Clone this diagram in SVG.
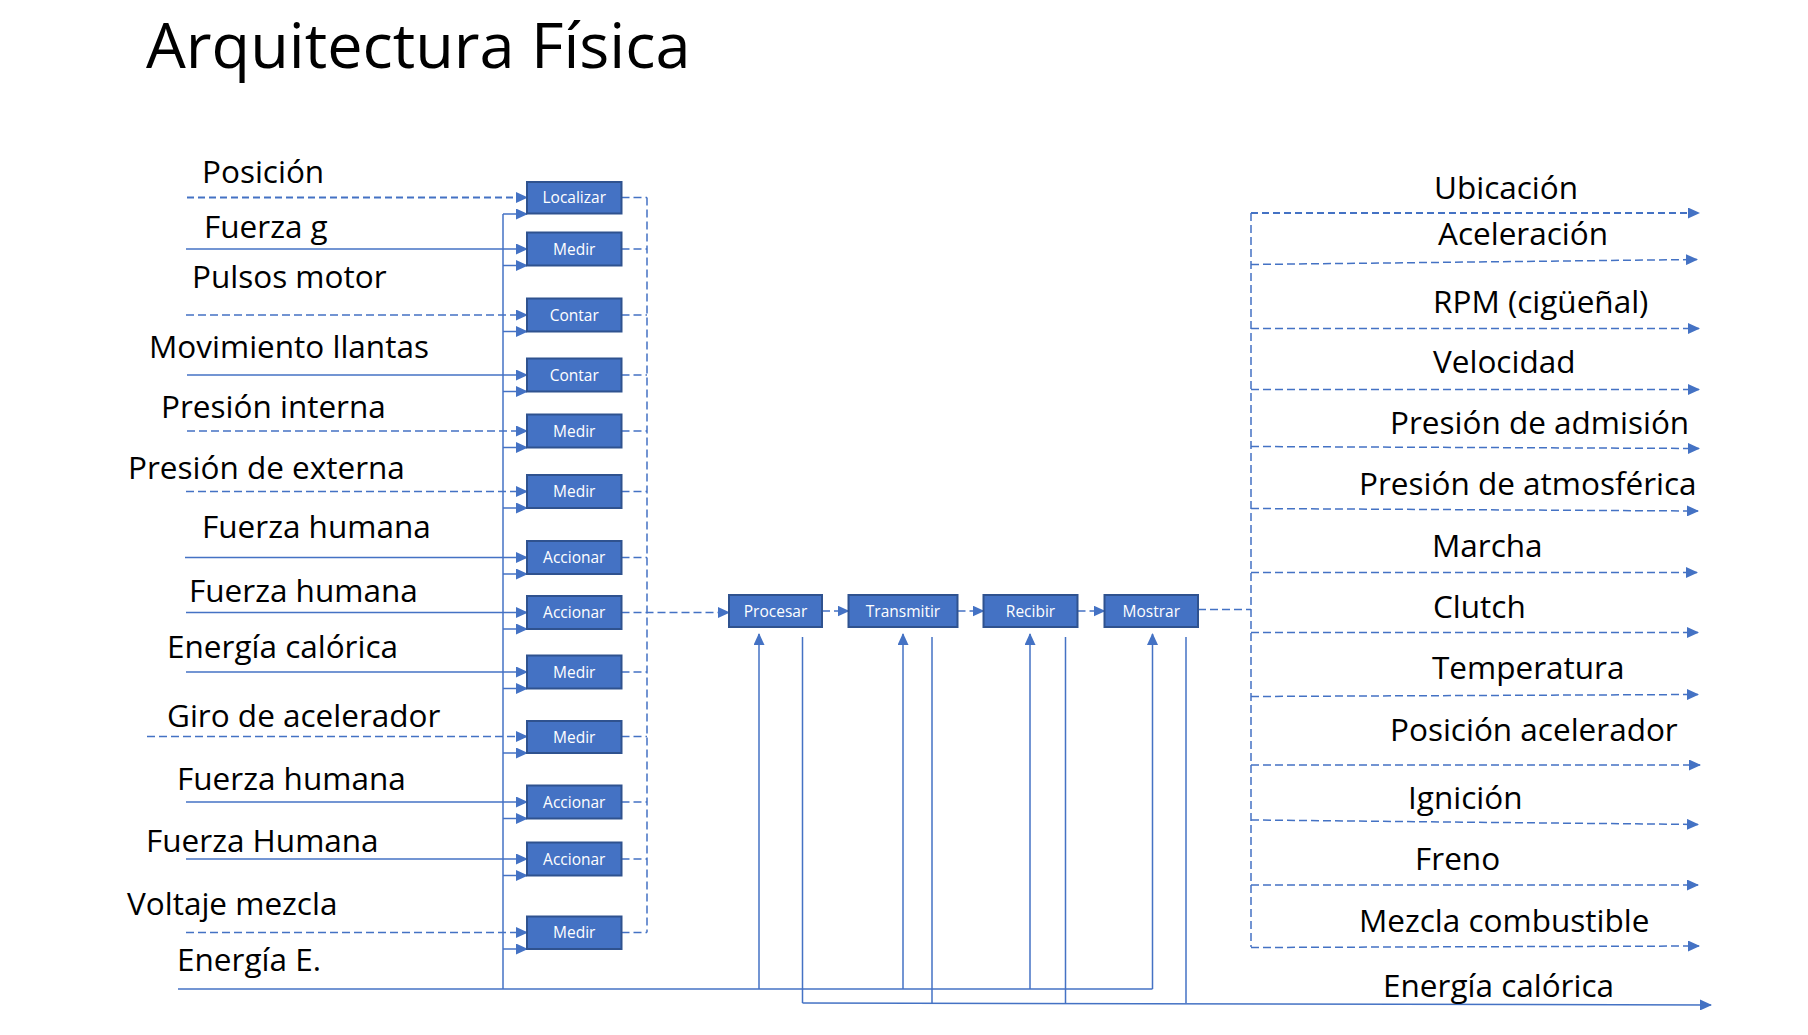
<svg xmlns="http://www.w3.org/2000/svg" width="1808" height="1035" viewBox="0 0 1808 1035">
<style>
.t{font-family:"Open Sans","Noto Sans","Liberation Sans",sans-serif;fill:#000;font-size:31.5px}
.title{font-family:"Open Sans","Noto Sans","Liberation Sans",sans-serif;fill:#000;font-size:63px}
.bx rect{fill:#4472C4;stroke:#2F528F;stroke-width:2}
.bx text{font-family:"Open Sans","Noto Sans","Liberation Sans",sans-serif;fill:#fff;font-size:15.5px;text-anchor:middle}
.c line,.c path{stroke:#4472C4;stroke-width:1.5;fill:none}
.c .d{stroke-dasharray:8 4}
.c .dt{stroke-dasharray:7 4;stroke-width:2.2}
.c .a{marker-end:url(#arr)}
</style>
<defs>
<marker id="arr" markerUnits="userSpaceOnUse" markerWidth="12" markerHeight="11" refX="11" refY="5.5" orient="auto" viewBox="0 0 12 11">
<path d="M0,0 L12,5.5 L0,11 z" fill="#4472C4"/>
</marker>
</defs>
<rect width="1808" height="1035" fill="#fff"/>
<text class="title" x="146" y="68">Arquitectura Física</text>

<g id="connectors" class="c">
<!-- left inputs -->
<line class="dt a" x1="187" y1="197.5" x2="527" y2="197.5"/>
<line class="a" x1="186" y1="249" x2="527" y2="249"/>
<line class="d a" x1="186" y1="315" x2="527" y2="315"/>
<line class="a" x1="187" y1="375" x2="527" y2="375"/>
<line class="d a" x1="187" y1="431" x2="527" y2="431"/>
<line class="d a" x1="186" y1="491.5" x2="527" y2="491.5"/>
<line class="a" x1="185" y1="557.5" x2="527" y2="557.5"/>
<line class="a" x1="186" y1="612.5" x2="527" y2="612.5"/>
<line class="a" x1="186" y1="672" x2="527" y2="672"/>
<line class="d a" x1="147" y1="736.5" x2="527" y2="736.5"/>
<line class="a" x1="186" y1="802" x2="527" y2="802"/>
<line class="a" x1="186" y1="859" x2="527" y2="859"/>
<line class="d a" x1="186" y1="932.5" x2="527" y2="932.5"/>
<!-- energy bus -->
<line x1="503" y1="214" x2="503" y2="989"/>
<line class="a" x1="503" y1="214" x2="527" y2="214"/>
<line class="a" x1="503" y1="265.5" x2="527" y2="265.5"/>
<line class="a" x1="503" y1="331.5" x2="527" y2="331.5"/>
<line class="a" x1="503" y1="391.5" x2="527" y2="391.5"/>
<line class="a" x1="503" y1="447.5" x2="527" y2="447.5"/>
<line class="a" x1="503" y1="508" x2="527" y2="508"/>
<line class="a" x1="503" y1="574" x2="527" y2="574"/>
<line class="a" x1="503" y1="629" x2="527" y2="629"/>
<line class="a" x1="503" y1="688.5" x2="527" y2="688.5"/>
<line class="a" x1="503" y1="753" x2="527" y2="753"/>
<line class="a" x1="503" y1="818.5" x2="527" y2="818.5"/>
<line class="a" x1="503" y1="875.5" x2="527" y2="875.5"/>
<line class="a" x1="503" y1="949" x2="527" y2="949"/>
<line x1="178" y1="989" x2="1152.5" y2="989"/>
<!-- right dashed collector of left column -->
<line class="d" x1="621.5" y1="197.5" x2="647" y2="197.5"/>
<line class="d" x1="621.5" y1="249" x2="647" y2="249"/>
<line class="d" x1="621.5" y1="315" x2="647" y2="315"/>
<line class="d" x1="621.5" y1="375" x2="647" y2="375"/>
<line class="d" x1="621.5" y1="431" x2="647" y2="431"/>
<line class="d" x1="621.5" y1="491.5" x2="647" y2="491.5"/>
<line class="d" x1="621.5" y1="557.5" x2="647" y2="557.5"/>
<line class="d" x1="621.5" y1="672" x2="647" y2="672"/>
<line class="d" x1="621.5" y1="736.5" x2="647" y2="736.5"/>
<line class="d" x1="621.5" y1="802" x2="647" y2="802"/>
<line class="d" x1="621.5" y1="859" x2="647" y2="859"/>
<line class="d" x1="621.5" y1="932.5" x2="647" y2="932.5"/>
<line class="d" x1="647" y1="197.5" x2="647" y2="932.5"/>
<line class="d a" x1="621.5" y1="612.5" x2="729" y2="612.5"/>
<!-- chain -->
<line class="d a" x1="822" y1="611" x2="848.5" y2="611"/>
<line class="d a" x1="957.5" y1="611" x2="983.5" y2="611"/>
<line class="d a" x1="1077.5" y1="611" x2="1104.5" y2="611"/>
<line class="d" x1="1198" y1="609.5" x2="1251" y2="609.5"/>
<!-- energy up arrows -->
<line class="a" x1="759" y1="989" x2="759" y2="634"/>
<line class="a" x1="903" y1="989" x2="903" y2="634"/>
<line class="a" x1="1030" y1="989" x2="1030" y2="634"/>
<line class="a" x1="1152.5" y1="989" x2="1152.5" y2="634"/>
<!-- output heat lines -->
<line x1="802.5" y1="637" x2="802.5" y2="1003"/>
<line x1="932" y1="637" x2="932" y2="1003"/>
<line x1="1065.5" y1="637" x2="1065.5" y2="1003"/>
<line x1="1186" y1="637" x2="1186" y2="1003"/>
<line class="a" x1="802.5" y1="1003" x2="1711" y2="1005"/>
<!-- right outputs -->
<line class="d" x1="1251" y1="213" x2="1251" y2="947"/>
<line class="dt a" x1="1251" y1="213" x2="1699" y2="213"/>
<line class="d a" x1="1251" y1="264.5" x2="1697" y2="259.5"/>
<line class="d a" x1="1251" y1="328.5" x2="1699" y2="328.5"/>
<line class="d a" x1="1251" y1="389.5" x2="1699" y2="389.5"/>
<line class="d a" x1="1251" y1="446.5" x2="1699" y2="448.5"/>
<line class="d a" x1="1251" y1="508.5" x2="1698" y2="511"/>
<line class="d a" x1="1251" y1="572.5" x2="1697" y2="572.5"/>
<line class="d a" x1="1251" y1="632.5" x2="1698" y2="632.5"/>
<line class="d a" x1="1251" y1="696.5" x2="1698" y2="694.5"/>
<line class="d a" x1="1251" y1="765" x2="1700" y2="765"/>
<line class="d a" x1="1251" y1="820" x2="1698" y2="824.5"/>
<line class="d a" x1="1251" y1="885" x2="1698" y2="885"/>
<line class="d a" x1="1251" y1="947.5" x2="1699" y2="946"/>
</g>

<g id="n-localizar" class="bx"><rect x="527" y="182" width="94.5" height="31.5"/><text x="574.25" y="203">Localizar</text></g>
<g id="n-medir1" class="bx"><rect x="527" y="232.5" width="94.5" height="33"/><text x="574.25" y="254.5">Medir</text></g>
<g id="n-contar1" class="bx"><rect x="527" y="298.5" width="94.5" height="33"/><text x="574.25" y="320.5">Contar</text></g>
<g id="n-contar2" class="bx"><rect x="527" y="358.5" width="94.5" height="33"/><text x="574.25" y="380.5">Contar</text></g>
<g id="n-medir2" class="bx"><rect x="527" y="414.5" width="94.5" height="33"/><text x="574.25" y="436.5">Medir</text></g>
<g id="n-medir3" class="bx"><rect x="527" y="475" width="94.5" height="33"/><text x="574.25" y="497">Medir</text></g>
<g id="n-accionar1" class="bx"><rect x="527" y="541" width="94.5" height="33"/><text x="574.25" y="563">Accionar</text></g>
<g id="n-accionar2" class="bx"><rect x="527" y="596" width="94.5" height="33"/><text x="574.25" y="618">Accionar</text></g>
<g id="n-medir4" class="bx"><rect x="527" y="655.5" width="94.5" height="33"/><text x="574.25" y="677.5">Medir</text></g>
<g id="n-medir5" class="bx"><rect x="527" y="721" width="94.5" height="32"/><text x="574.25" y="742.5">Medir</text></g>
<g id="n-accionar3" class="bx"><rect x="527" y="785.5" width="94.5" height="33"/><text x="574.25" y="807.5">Accionar</text></g>
<g id="n-accionar4" class="bx"><rect x="527" y="842.5" width="94.5" height="33"/><text x="574.25" y="864.5">Accionar</text></g>
<g id="n-medir6" class="bx"><rect x="527" y="916.5" width="94.5" height="32.5"/><text x="574.25" y="938">Medir</text></g>

<g id="n-procesar" class="bx"><rect x="729" y="595" width="93" height="32"/><text x="775.5" y="616.5">Procesar</text></g>
<g id="n-transmitir" class="bx"><rect x="848.5" y="595" width="109" height="32"/><text x="903" y="616.5">Transmitir</text></g>
<g id="n-recibir" class="bx"><rect x="983.5" y="595" width="94" height="32"/><text x="1030.5" y="616.5">Recibir</text></g>
<g id="n-mostrar" class="bx"><rect x="1104.5" y="595" width="93.5" height="32"/><text x="1151.25" y="616.5">Mostrar</text></g>

<g id="labels-in">
<text class="t" x="202" y="183">Posición</text>
<text class="t" x="204" y="238">Fuerza g</text>
<text class="t" x="192" y="288">Pulsos motor</text>
<text class="t" x="149" y="358">Movimiento llantas</text>
<text class="t" x="161" y="418">Presión interna</text>
<text class="t" x="128" y="479">Presión de externa</text>
<text class="t" x="202" y="538">Fuerza humana</text>
<text class="t" x="189" y="602">Fuerza humana</text>
<text class="t" x="167" y="658">Energía calórica</text>
<text class="t" x="167" y="727">Giro de acelerador</text>
<text class="t" x="177" y="790">Fuerza humana</text>
<text class="t" x="146" y="852">Fuerza Humana</text>
<text class="t" x="127" y="915">Voltaje mezcla</text>
<text class="t" x="177" y="971">Energía E.</text>
</g>
<g id="labels-out">
<text class="t" x="1434" y="199">Ubicación</text>
<text class="t" x="1438" y="245">Aceleración</text>
<text class="t" x="1433" y="313">RPM (cigüeñal)</text>
<text class="t" x="1433" y="373">Velocidad</text>
<text class="t" x="1390" y="434">Presión de admisión</text>
<text class="t" x="1359" y="495">Presión de atmosférica</text>
<text class="t" x="1432" y="557">Marcha</text>
<text class="t" x="1433" y="618">Clutch</text>
<text class="t" x="1432" y="679">Temperatura</text>
<text class="t" x="1390" y="741">Posición acelerador</text>
<text class="t" x="1408" y="809">Ignición</text>
<text class="t" x="1415" y="870">Freno</text>
<text class="t" x="1359" y="932">Mezcla combustible</text>
<text class="t" x="1383" y="997">Energía calórica</text>
</g>
</svg>
